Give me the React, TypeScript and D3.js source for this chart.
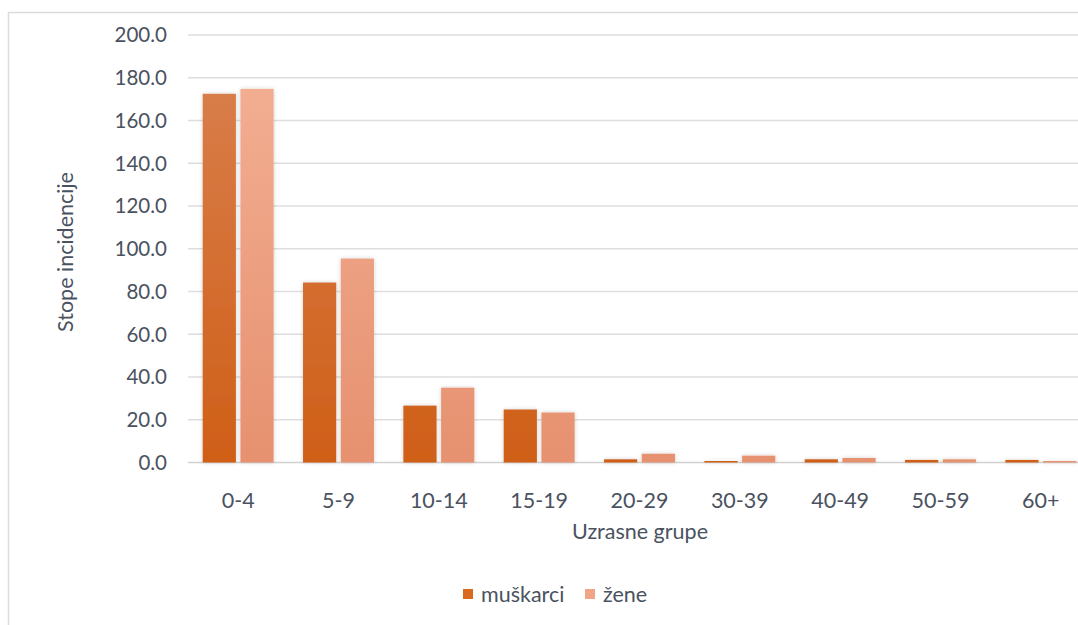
import React from "react";
import * as d3 from "d3";

const ageGroups = ["0-4", "5-9", "10-14", "15-19", "20-29", "30-39", "40-49", "50-59", "60+"];
const maleRates = [172.5, 84.2, 26.6, 24.8, 1.5, 0.7, 1.5, 1.2, 1.2];
const femaleRates = [174.8, 95.4, 35.0, 23.4, 4.1, 3.2, 2.1, 1.5, 0.7];
const yTicks = [0, 20, 40, 60, 80, 100, 120, 140, 160, 180, 200];
const seriesNames = ["muškarci", "žene"];

const W = 1078;
const H = 625;
const FONT = "Lato, 'Open Sans', sans-serif";
const TEXT = "#4a5260";

export default function App() {
  const left = 188;
  const right = 1091;
  const top = 35;
  const bottom = 462.5;

  const x = d3.scaleBand<string>().domain(ageGroups).range([left, right]).paddingInner(0.293).paddingOuter(0.1465);
  const x1 = d3.scaleBand<string>().domain(seriesNames).range([0, x.bandwidth()]).paddingInner(0.12);
  const y = d3.scaleLinear().domain([0, 200]).range([bottom, top]);

  const series = [
    { name: seriesNames[0], values: maleRates, fill: "url(#gradM)", swatch: "#d8691f" },
    { name: seriesNames[1], values: femaleRates, fill: "url(#gradF)", swatch: "#f0a585" },
  ];

  return (
    <svg width={W} height={H} style={{ position: "fixed", left: 0, top: 0, background: "#fff" }} fontFamily={FONT}>
      <defs>
        <linearGradient id="gradM" gradientUnits="userSpaceOnUse" x1="0" y1={top} x2="0" y2={bottom}>
          <stop offset="0" stopColor="#da8150" />
          <stop offset="1" stopColor="#cf5f18" />
        </linearGradient>
        <linearGradient id="gradF" gradientUnits="userSpaceOnUse" x1="0" y1={top} x2="0" y2={bottom}>
          <stop offset="0" stopColor="#f4b196" />
          <stop offset="1" stopColor="#e6916f" />
        </linearGradient>
        <filter id="shadow" x="-20%" y="-20%" width="140%" height="140%">
          <feGaussianBlur in="SourceAlpha" stdDeviation="2" />
          <feOffset dx="0" dy="0" result="blur" />
          <feComponentTransfer>
            <feFuncA type="linear" slope="0.18" />
          </feComponentTransfer>
          <feMerge>
            <feMergeNode />
            <feMergeNode in="SourceGraphic" />
          </feMerge>
        </filter>
      </defs>

      {/* chart frame */}
      <rect x={8.5} y={12.5} width={W + 20} height={H + 20} fill="#fff" stroke="#dcdcdc" strokeWidth={1.5} />

      {/* gridlines */}
      {yTicks.map((t) => (
        <line key={t} x1={left} x2={W} y1={y(t)} y2={y(t)} stroke={t === 0 ? "#d0d0d0" : "#dedede"} strokeWidth={1.5} />
      ))}

      {/* y tick labels */}
      {yTicks.map((t) => (
        <text key={t} x={167} y={y(t)} dy="0.36em" textAnchor="end" fontSize={20.5} fill={TEXT}>
          {t.toFixed(1)}
        </text>
      ))}

      {/* bars */}
      <g filter="url(#shadow)">
        {ageGroups.map((g, i) =>
          series.map((s) => (
            <rect
              key={g + s.name}
              x={(x(g) ?? 0) + (x1(s.name) ?? 0)}
              y={y(s.values[i])}
              width={x1.bandwidth()}
              height={bottom - y(s.values[i])}
              fill={s.fill}
            />
          ))
        )}
      </g>

      {/* x tick labels */}
      {ageGroups.map((g) => (
        <text key={g} x={(x(g) ?? 0) + x.bandwidth() / 2} y={500} dy="0.36em" textAnchor="middle" fontSize={21.5} fill={TEXT}>
          {g}
        </text>
      ))}

      {/* axis titles */}
      <text x={640} y={531} dy="0.36em" textAnchor="middle" fontSize={21.5} fill={TEXT}>
        Uzrasne grupe
      </text>
      <text transform={`translate(65,252) rotate(-90)`} dy="0.36em" textAnchor="middle" fontSize={21.5} fill={TEXT}>
        Stope incidencije
      </text>

      {/* legend */}
      {series.map((s, i) => {
        const lx = i === 0 ? 463 : 585;
        return (
          <g key={s.name}>
            <rect x={lx} y={589} width={10} height={10} fill={s.swatch} />
            <text x={lx + 18} y={594} dy="0.36em" fontSize={21.5} fill={TEXT}>
              {s.name}
            </text>
          </g>
        );
      })}
    </svg>
  );
}
